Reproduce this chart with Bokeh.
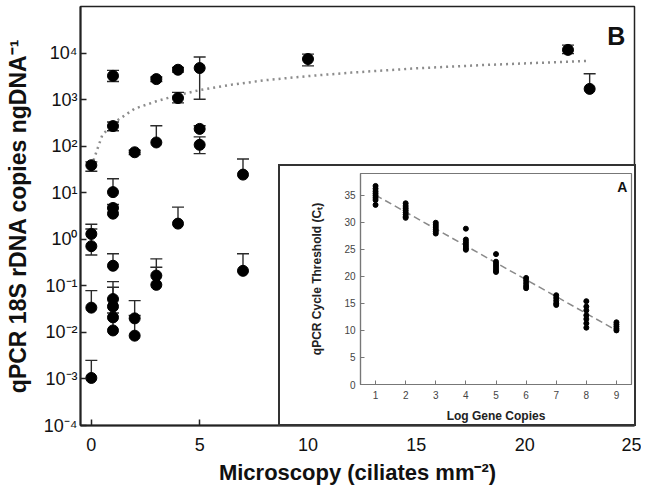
import math
from bokeh.plotting import figure
from bokeh.models import FixedTicker, Label, Range1d
from bokeh.layouts import column
from bokeh.embed import file_html
from bokeh.resources import INLINE

nan = float("nan")

# ---------------- Panel B data (microscopy vs qPCR) ----------------
micro_x = [0, 0, 0, 0, 0,
           1, 1, 1, 1, 1, 1, 1, 1, 1, 1,
           2, 2, 2,
           3, 3, 3, 3,
           4, 4, 4,
           5, 5, 5,
           7, 7,
           10, 22, 23]
qpcr_y = [39, 1.3, 0.71, 0.034, 0.00105,
          3240, 270, 10.3, 4.7, 3.55, 0.27, 0.052, 0.036, 0.021, 0.011,
          74, 0.020, 0.0085,
          2760, 120, 0.166, 0.105,
          4380, 1080, 2.17,
          4770, 235, 107,
          24.5, 0.21,
          7450, 11700, 1700]
err_lo = [29, nan, 0.46, nan, nan,
          2450, 215, nan, nan, nan, nan, nan, nan, nan, nan,
          66, nan, nan,
          2450, nan, nan, nan,
          3900, 850, nan,
          1020, nan, 69,
          nan, nan,
          5300, 9700, nan]
err_hi = [46, 2.1, 1.66, 0.079, 0.0025,
          4250, 330, 20, nan, 5.6, 0.49, 0.123, 0.093, nan, 0.026,
          82, 0.048, 0.023,
          3050, 275, 0.38, 0.25,
          4900, 1430, 4.9,
          8200, 275, 158,
          53, 0.49,
          9500, 14800, 3600]

# dotted trend curve
curve_x = [0.1, 0.5, 1, 2, 3, 4, 5, 6.5, 8, 10, 12, 15, 18, 20, 23]
curve_y = [50, 170, 310, 640, 920, 1250, 1600, 2100, 2600, 3200, 3800, 4700, 5500, 6000, 6800]

y_tick_values = [1e-4, 1e-3, 1e-2, 0.1, 1, 10, 100, 1000, 10000]
y_tick_labels = ["10⁻⁴", "10⁻³", "10⁻²", "10⁻¹", "10⁰", "10¹", "10²", "10³", "10⁴"]
x_tick_values = [0, 5, 10, 15, 20, 25]

# ---------------- Panel A data (standard curve) ----------------
log_copies = ([1] * 8 + [2] * 8 + [3] * 6 + [4] * 7 + [5] * 7 +
              [6] * 5 + [7] * 5 + [8] * 7 + [9] * 5)
ct_values = [36.7, 36.2, 35.7, 35.3, 34.9, 34.5, 34.1, 33.2,
             33.5, 33.0, 32.6, 32.2, 31.8, 31.4, 31.0, 30.8,
             29.9, 29.5, 29.1, 28.7, 28.3, 27.9,
             28.8, 26.8, 26.4, 26.0, 25.6, 25.2, 24.9,
             24.1, 22.7, 22.3, 21.9, 21.5, 21.1, 20.8,
             19.7, 19.2, 18.7, 18.2, 17.8,
             16.5, 16.0, 15.5, 15.0, 14.7,
             15.4, 14.4, 13.7, 12.8, 12.1, 11.3, 10.5,
             11.5, 11.1, 10.7, 10.3, 10.0]
fit_x = [1, 9]
fit_y = [35.0, 10.0]
inset_x_ticks = [1, 2, 3, 4, 5, 6, 7, 8, 9]
inset_y_ticks = [0, 5, 10, 15, 20, 25, 30, 35]

FONT = "Liberation Sans"

# ---------------- main figure ----------------
p = figure(width=641, height=490,
           x_range=Range1d(-0.5, 25.07), y_range=Range1d(1e-4, 1e5),
           y_axis_type="log", output_backend="svg", toolbar_location=None,
           min_border_left=80, min_border_right=5, min_border_top=6,
           min_border_bottom=65)
p.grid.visible = False
p.outline_line_color = "#222222"
p.outline_line_width = 1.5
p.background_fill_color = "white"
p.border_fill_color = "white"

for ax in (p.xaxis[0], p.yaxis[0]):
    ax.axis_line_color = "#222222"
    ax.axis_line_width = 2
    ax.major_tick_line_color = "#222222"
    ax.major_tick_line_width = 1.5
    ax.major_tick_in = 6
    ax.major_tick_out = 0
    ax.minor_tick_line_color = None
    ax.major_label_text_font = FONT
    ax.major_label_text_font_size = "18px"
    ax.major_label_text_color = "#111111"
    ax.axis_label_text_font = FONT
    ax.axis_label_text_font_style = "bold"
    ax.axis_label_text_color = "#111111"

p.xaxis.ticker = FixedTicker(ticks=x_tick_values)
p.xaxis.major_label_standoff = 12
p.xaxis.axis_label = "Microscopy (ciliates mm⁻²)"
p.xaxis.axis_label_text_font_size = "22px"
p.xaxis.axis_label_standoff = 6

p.yaxis.ticker = FixedTicker(ticks=y_tick_values)
p.yaxis.major_label_overrides = dict(zip(y_tick_values, y_tick_labels))
p.yaxis.major_label_standoff = 3
p.yaxis.axis_label = "qPCR 18S rDNA copies ngDNA⁻¹"
p.yaxis.axis_label_text_font_size = "23px"
p.yaxis.axis_label_standoff = 10

# dotted regression curve
p.line(curve_x, curve_y, line_color="#8c8c8c", line_width=2.5, line_dash="2 4")

# error bars
hi_x = [x for x, h in zip(micro_x, err_hi) if not math.isnan(h)]
hi_y0 = [y for y, h in zip(qpcr_y, err_hi) if not math.isnan(h)]
hi_y1 = [h for h in err_hi if not math.isnan(h)]
lo_x = [x for x, l in zip(micro_x, err_lo) if not math.isnan(l)]
lo_y0 = [y for y, l in zip(qpcr_y, err_lo) if not math.isnan(l)]
lo_y1 = [l for l in err_lo if not math.isnan(l)]
ebar_color = "#2a2a2a"
p.segment(x0=hi_x, y0=hi_y0, x1=hi_x, y1=hi_y1, line_color=ebar_color, line_width=1.4)
p.segment(x0=lo_x, y0=lo_y0, x1=lo_x, y1=lo_y1, line_color=ebar_color, line_width=1.4)
p.scatter(hi_x, hi_y1, marker="dash", size=12, line_color=ebar_color, line_width=1.4)
p.scatter(lo_x, lo_y1, marker="dash", size=12, line_color=ebar_color, line_width=1.4)

# points
p.scatter(micro_x, qpcr_y, marker="circle", size=11, fill_color="black", line_color="black")

p.add_layout(Label(x=24.65, y=10 ** 4.37, text="B", text_align="right",
                   text_baseline="middle", text_font=FONT, text_font_style="bold",
                   text_font_size="25px", text_color="#111111"))

# ---------------- inset figure (panel A) ----------------
q = figure(width=354, height=258,
           x_range=Range1d(0.5, 9.5), y_range=Range1d(0, 39),
           output_backend="svg", toolbar_location=None,
           min_border_left=49, min_border_right=7, min_border_top=7,
           min_border_bottom=44,
           margin=(164 - 490, 0, 0, 278),
           styles={"border": "2px solid #333333", "box-sizing": "content-box",
                   "background": "white"})
q.grid.visible = False
q.outline_line_color = "#777777"
q.outline_line_width = 1.2
q.background_fill_color = "white"
q.border_fill_color = "white"
for ax in (q.xaxis[0], q.yaxis[0]):
    ax.axis_line_color = "#777777"
    ax.axis_line_width = 1.2
    ax.major_tick_line_color = "#777777"
    ax.major_tick_in = 4
    ax.major_tick_out = 0
    ax.minor_tick_line_color = None
    ax.major_label_text_font = FONT
    ax.major_label_text_font_size = "10px"
    ax.major_label_text_color = "#444444"
    ax.axis_label_text_font = FONT
    ax.axis_label_text_font_style = "bold"
    ax.axis_label_text_font_size = "12px"
    ax.axis_label_text_color = "#222222"
q.xaxis.ticker = FixedTicker(ticks=inset_x_ticks)
q.yaxis.ticker = FixedTicker(ticks=inset_y_ticks)
q.xaxis.major_label_standoff = 6
q.xaxis.axis_label = "Log Gene Copies"
q.xaxis.axis_label_standoff = 7
q.yaxis.major_label_standoff = 5
q.yaxis.axis_label = "qPCR Cycle Threshold (Cₜ)"
q.yaxis.axis_label_standoff = 17

q.line(fit_x, fit_y, line_color="#8a8a8a", line_width=1.5, line_dash="7 4")
q.scatter(log_copies, ct_values, marker="circle", size=5, fill_color="black", line_color="black")
q.add_layout(Label(x=9.36, y=36.5, text="A", text_align="right", text_baseline="middle",
                   text_font=FONT, text_font_style="bold", text_font_size="14px",
                   text_color="#111111"))

layout = column(p, q)
open("out.html", "w").write(file_html(layout, INLINE))
